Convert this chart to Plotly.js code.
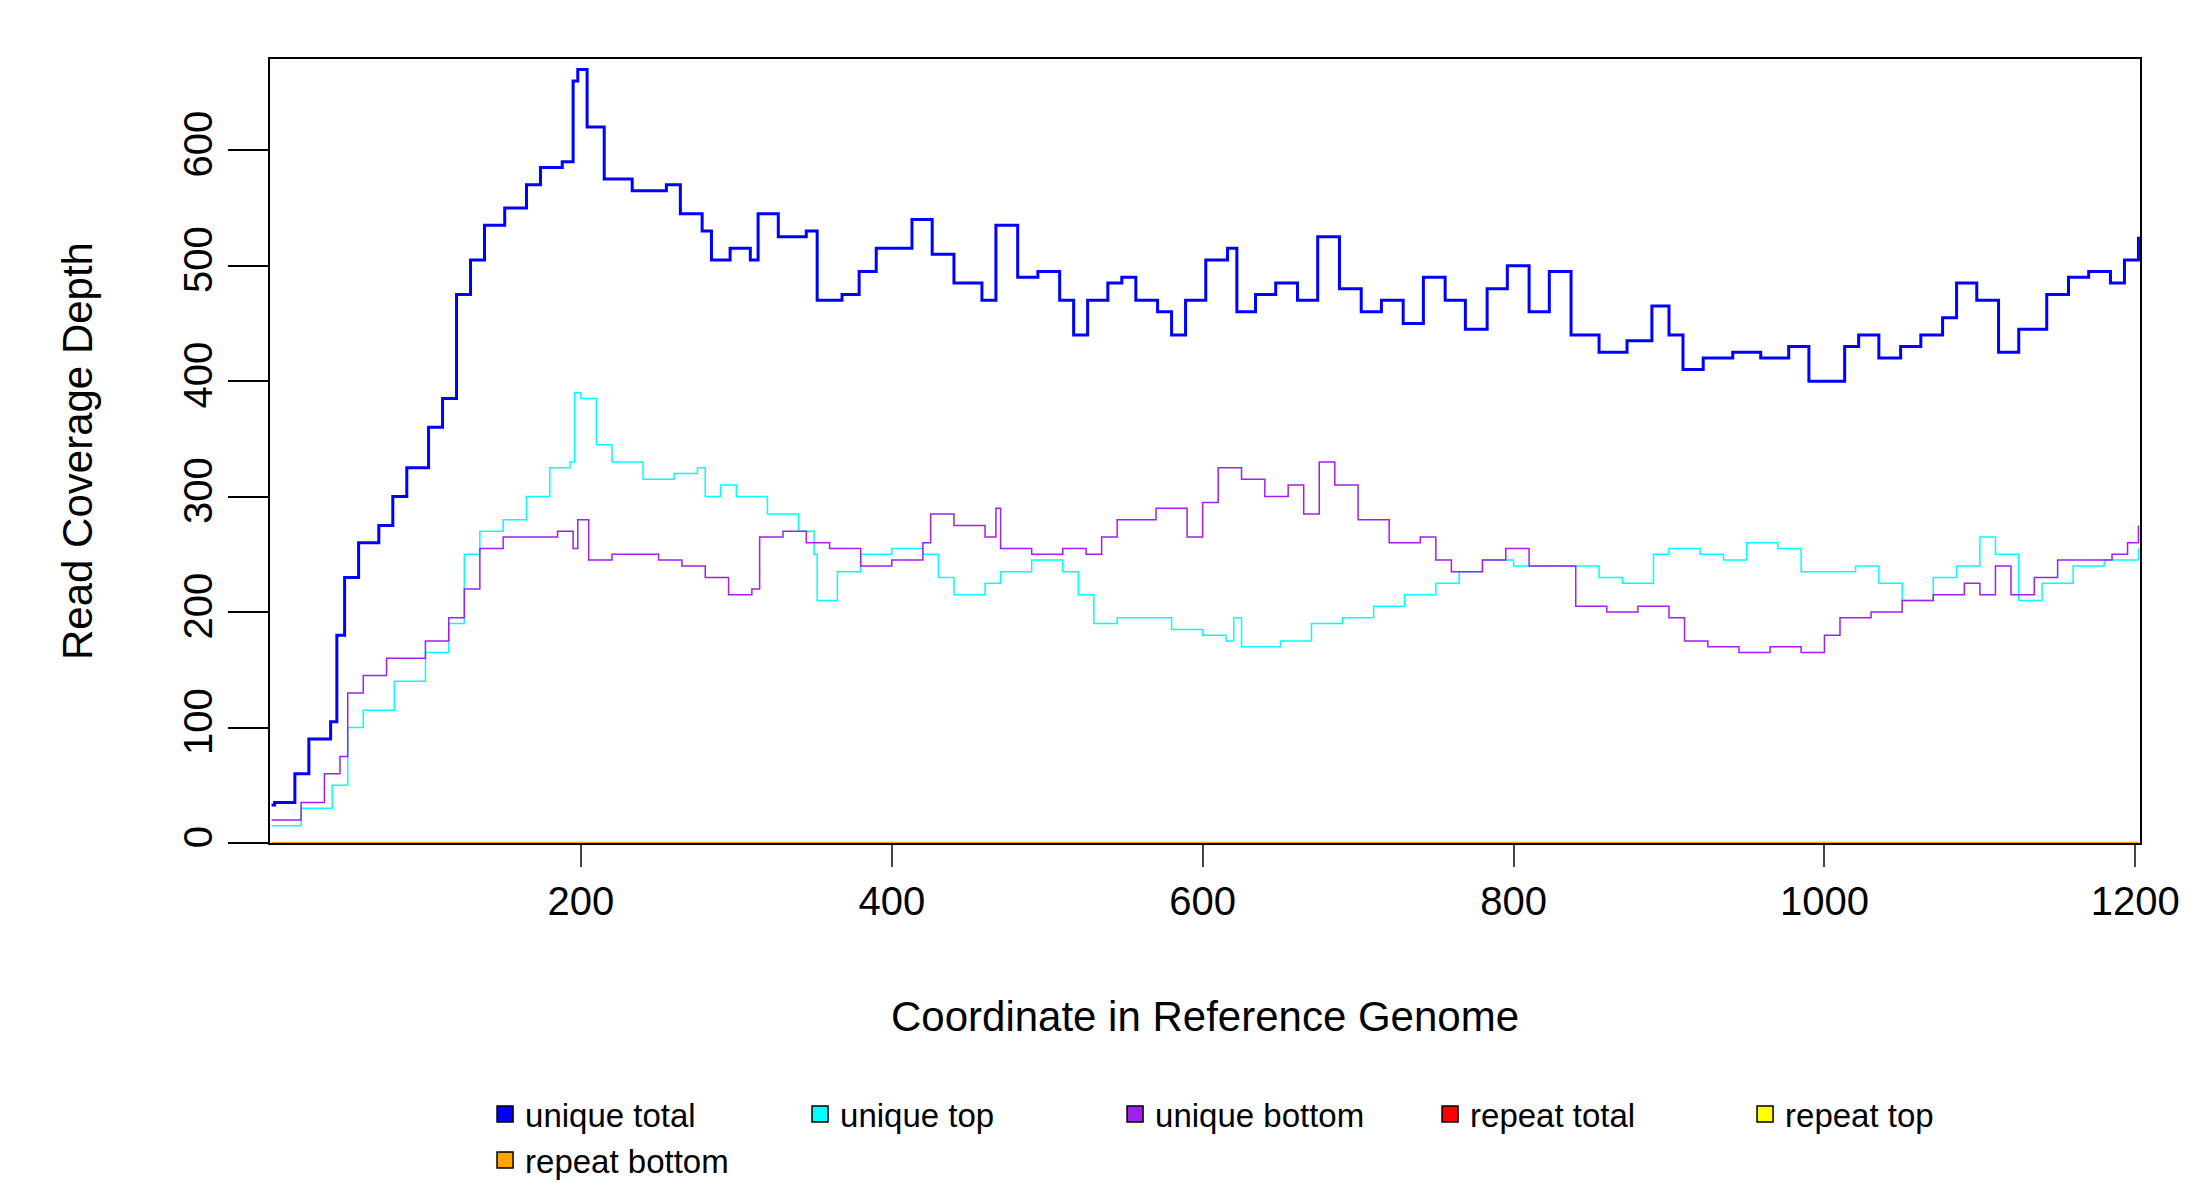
<!DOCTYPE html>
<html>
<head>
<meta charset="utf-8">
<script src="https://cdn.plot.ly/plotly-3.0.1.min.js"></script>
<style>body{margin:0;background:#fff}#chart{width:2200px;height:1200px}</style>
</head>
<body>
<div id="chart"></div>
<script>
// coverage (coordinate, depth), drawn as steps
const totalX = [1,3,16,25,39,43,48,57,70,79,88,102,111,120,129,138,151,165,174,188,195,198,204,215,233,255,264,278,284,296,309,314,327,345,352,368,379,390,413,426,440,458,467,481,494,508,517,526,539,548,557,571,580,589,602,616,622,634,647,661,674,688,702,715,729,742,756,769,783,796,810,823,837,855,873,889,900,909,922,941,959,977,990,999,1013,1022,1035,1049,1062,1076,1085,1098,1112,1125,1143,1157,1170,1184,1193,1202];
const totalY = [33,35,60,90,105,180,230,260,275,300,325,360,385,475,505,535,550,570,585,590,660,670,620,575,565,570,545,530,505,515,505,545,525,530,470,475,495,515,540,510,485,470,535,490,495,470,440,470,485,490,470,460,440,470,505,515,460,475,485,470,525,480,460,470,450,490,470,445,480,500,460,495,440,425,435,465,440,410,420,425,420,430,400,400,430,440,420,430,440,455,485,470,425,445,475,490,495,485,505,525];
const topX = [1,3,20,40,50,60,80,100,115,125,135,150,165,180,193,196,200,210,220,240,260,275,280,290,300,320,340,350,352,365,380,400,420,430,440,460,470,490,510,520,530,545,560,580,600,615,620,625,650,670,690,710,730,750,765,780,800,820,840,855,870,890,900,920,935,950,970,985,1000,1020,1035,1050,1070,1085,1100,1110,1125,1140,1160,1180,1202];
const topY = [15,15,30,50,100,115,140,165,190,250,270,280,300,325,330,390,385,345,330,315,320,325,300,310,300,285,270,250,210,235,250,255,250,230,215,225,235,245,235,215,190,195,195,185,180,175,195,170,175,190,195,205,215,225,235,245,240,240,240,230,225,250,255,250,245,260,255,235,235,240,225,210,230,240,265,250,210,225,240,245,255];
const bottomX = [1,3,20,35,45,50,60,75,100,115,125,135,150,170,185,195,198,205,220,250,265,280,295,310,315,330,345,360,380,400,420,425,440,460,467,470,490,510,525,535,545,570,590,600,610,625,640,655,665,675,685,700,720,740,750,760,780,795,810,830,840,860,880,900,910,925,945,965,985,1000,1010,1030,1050,1070,1090,1100,1110,1120,1135,1150,1170,1185,1195,1202];
const bottomY = [20,20,35,60,75,130,145,160,175,195,220,255,265,265,270,255,280,245,250,245,240,230,215,220,265,270,260,255,240,245,260,285,275,265,290,255,250,255,250,265,280,290,265,295,325,315,300,310,285,330,310,280,260,265,245,235,245,255,240,240,205,200,205,195,175,170,165,170,165,180,195,200,210,215,225,215,240,215,230,245,245,250,260,275];
const repeatX = [1,1202];
const repeatY = [0,0];
const names = ['unique total','unique top','unique bottom','repeat total','repeat top','repeat bottom'];
const colors = ['#0000ff','#00ffff','#a020f0','#ff0000','#ffff00','#ffa500'];

const FONT = 'Liberation Sans, Arial, sans-serif';
const step = (x, y, c, w) => ({x: x, y: y, type: 'scatter', mode: 'lines', line: {shape: 'hv', color: c, width: w}, showlegend: false, hoverinfo: 'skip'});
const data = [
  step(topX, topY, colors[1], 1.5),
  step(bottomX, bottomY, colors[2], 1.5),
  step(totalX, totalY, colors[0], 3),
  step(repeatX, repeatY, colors[3], 1.5),
  step(repeatX, repeatY, colors[4], 1.5),
  step(repeatX, repeatY, colors[5], 2.5),
];
names.forEach((n, i) => data.push({x: [null], y: [null], type: 'scatter', mode: 'markers', name: n,
  marker: {symbol: 'square', size: 22, color: colors[i], line: {color: '#000', width: 1.5}}}));

const layout = {
  width: 2200, height: 1200,
  paper_bgcolor: '#fff', plot_bgcolor: '#fff',
  font: {family: FONT, size: 40, color: '#000'},
  margin: {l: 270, r: 60, t: 59, b: 352},
  xaxis: {range: [0, 1203], tickvals: [200, 400, 600, 800, 1000, 1200], ticks: 'outside', ticklen: 22, tickwidth: 2,
    showline: true, mirror: true, linecolor: '#000', linewidth: 2, showgrid: false, zeroline: false,
    tickfont: {size: 40}, title: {text: 'Coordinate in Reference Genome', font: {size: 42}, standoff: 80}},
  yaxis: {range: [0, 679], tickvals: [0, 100, 200, 300, 400, 500, 600], ticks: 'outside', ticklen: 40, tickwidth: 2,
    tickcolor: '#000', tickangle: -90, showline: true, mirror: true, linecolor: '#000', linewidth: 2, showgrid: false, zeroline: false,
    tickfont: {size: 40}, title: {text: 'Read Coverage Depth', font: {size: 42}, standoff: 70}},
  showlegend: true,
  legend: {orientation: 'h', x: 0.115, xanchor: 'left', y: -0.31, yanchor: 'top', font: {size: 33},
    entrywidth: 270, itemwidth: 30, bgcolor: 'rgba(0,0,0,0)'},
};
Plotly.newPlot('chart', data, layout, {displayModeBar: false, staticPlot: true});
</script>
</body>
</html>
